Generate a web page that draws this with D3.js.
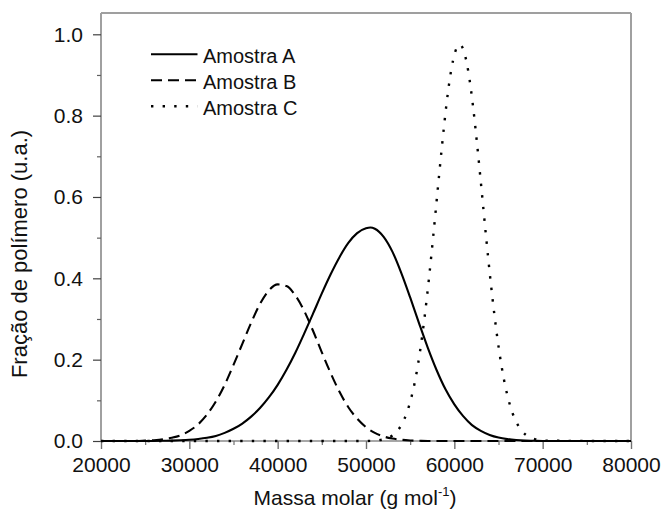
<!DOCTYPE html>
<html>
<head>
<meta charset="utf-8">
<script src="https://cdn.jsdelivr.net/npm/d3@7/dist/d3.min.js"></script>
<style>
  html, body { margin: 0; padding: 0; background: #fff; }
  svg { display: block; font-family: "Liberation Sans", Arial, sans-serif; }
</style>
</head>
<body>
<svg id="chart" width="662" height="518"></svg>
<script>
// ---- data ----
const massA = [20000, 25000, 27000, 28000, 29000, 30000, 31000, 32000, 33000, 34000, 35000, 36000, 37000, 38000, 39000, 40000, 41000, 42000, 43000, 44000, 45000, 46000, 47000, 48000, 49000, 50000, 50500, 51000, 52000, 53000, 54000, 55000, 56000, 57000, 58000, 59000, 60000, 61000, 62000, 63000, 64000, 65000, 66000, 67000, 68000, 69000, 70000, 80000];
const fracA = [0, 0, 0.0005, 0.001, 0.0018, 0.003, 0.005, 0.008, 0.0125, 0.020, 0.030, 0.043, 0.060, 0.081, 0.107, 0.138, 0.175, 0.217, 0.264, 0.313, 0.363, 0.410, 0.452, 0.487, 0.511, 0.523, 0.525, 0.522, 0.502, 0.465, 0.413, 0.353, 0.290, 0.229, 0.174, 0.127, 0.090, 0.061, 0.039, 0.025, 0.015, 0.0085, 0.0047, 0.0025, 0.0012, 0.0006, 0, 0];

const massB = [20000, 24000, 25000, 26000, 27000, 28000, 29000, 30000, 31000, 32000, 33000, 34000, 35000, 36000, 37000, 38000, 39000, 40000, 41000, 42000, 43000, 44000, 45000, 46000, 47000, 48000, 49000, 50000, 51000, 52000, 53000, 54000, 55000, 56000, 57000, 80000];
const fracB = [0, 0, 0.001, 0.002, 0.004, 0.008, 0.014, 0.025, 0.041, 0.065, 0.097, 0.138, 0.187, 0.239, 0.291, 0.337, 0.370, 0.385, 0.381, 0.358, 0.320, 0.271, 0.218, 0.167, 0.121, 0.083, 0.055, 0.034, 0.020, 0.011, 0.006, 0.003, 0.0014, 0.0006, 0, 0];

const massC = [20000, 50000, 51100, 51600, 52100, 52600, 53100, 53600, 54100, 54600, 55100, 55600, 56100, 56600, 57100, 57600, 58100, 58600, 59100, 59600, 60100, 60600, 61100, 61600, 62100, 62600, 63100, 63600, 64100, 64600, 65100, 65600, 66100, 66600, 67100, 67600, 68100, 68600, 69100, 69600, 70100, 70600, 80000];
const fracC = [0, 0, 0.0012, 0.0024, 0.0047, 0.0086, 0.015, 0.026, 0.043, 0.068, 0.104, 0.153, 0.218, 0.299, 0.394, 0.501, 0.614, 0.725, 0.826, 0.906, 0.957, 0.975, 0.957, 0.906, 0.826, 0.725, 0.614, 0.501, 0.394, 0.299, 0.218, 0.153, 0.104, 0.068, 0.043, 0.026, 0.015, 0.0086, 0.0047, 0.0024, 0.0012, 0.0006, 0];

const seriesNames = ["Amostra A", "Amostra B", "Amostra C"];
const xTicks = [20000, 30000, 40000, 50000, 60000, 70000, 80000];
const xMinorTicks = [25000, 35000, 45000, 55000, 65000, 75000];
const yTicks = [0.0, 0.2, 0.4, 0.6, 0.8, 1.0];
const yMinorTicks = [0.1, 0.3, 0.5, 0.7, 0.9];
const xTitle = "Massa molar (g mol";
const xTitleSup = "-1";
const yTitle = "Fração de polímero (u.a.)";

// ---- layout ----
const L = 101, R = 631, T = 13, B = 441;
const x = d3.scaleLinear().domain([20000, 80000]).range([L, R]);
const y = d3.scaleLinear().domain([0, (B - T) / 406.7]).range([B, T]);

const svg = d3.select("#chart");

const styles = [
  { dash: null, width: 2.1 },
  { dash: "11,6", width: 2.1 },
  { dash: "2.4,9.2", width: 2.4 }
];
const series = [
  { name: seriesNames[0], xs: massA, ys: fracA },
  { name: seriesNames[1], xs: massB, ys: fracB },
  { name: seriesNames[2], xs: massC, ys: fracC }
];

// frame
svg.append("line").attr("x1", L).attr("x2", R).attr("y1", T).attr("y2", T)
  .attr("stroke", "#404040").attr("stroke-width", 1.2);
svg.append("line").attr("x1", L).attr("x2", R).attr("y1", B).attr("y2", B)
  .attr("stroke", "#505050").attr("stroke-width", 1.2);
svg.append("line").attr("x1", R).attr("x2", R).attr("y1", T).attr("y2", B)
  .attr("stroke", "#a0a0a0").attr("stroke-width", 2);

// y axis
const yAxis = svg.append("g").attr("transform", `translate(${L},0)`)
  .call(d3.axisLeft(y).tickValues(yTicks).tickFormat(d3.format(".1f")).tickSize(8).tickPadding(10));
yAxis.select(".domain").attr("stroke", "#a0a0a0").attr("stroke-width", 2)
  .attr("d", `M0,${T}V${B}`);
yAxis.selectAll(".tick line").attr("stroke", "#404040").attr("stroke-width", 1.2);
yAxis.selectAll(".tick text").attr("font-size", 21).attr("fill", "#111")
  .attr("font-family", "Liberation Sans, Arial, sans-serif");
svg.append("g").attr("transform", `translate(${L},0)`)
  .call(d3.axisLeft(y).tickValues(yMinorTicks).tickFormat("").tickSize(4))
  .call(g => g.select(".domain").remove())
  .selectAll(".tick line").attr("stroke", "#606060").attr("stroke-width", 1.2);

// x axis
const xAxis = svg.append("g").attr("transform", `translate(0,${B})`)
  .call(d3.axisBottom(x).tickValues(xTicks).tickFormat(d3.format("d")).tickSize(8).tickPadding(8));
xAxis.select(".domain").remove();
xAxis.selectAll(".tick line").attr("stroke", "#707070").attr("stroke-width", 1.4);
xAxis.selectAll(".tick text").attr("font-size", 21).attr("fill", "#111")
  .attr("font-family", "Liberation Sans, Arial, sans-serif");
svg.append("g").attr("transform", `translate(0,${B})`)
  .call(d3.axisBottom(x).tickValues(xMinorTicks).tickFormat("").tickSize(4))
  .call(g => g.select(".domain").remove())
  .selectAll(".tick line").attr("stroke", "#707070").attr("stroke-width", 1.2);

// curves
const line = d3.line().x(d => x(d[0])).y(d => y(d[1])).curve(d3.curveMonotoneX);
series.forEach((s, i) => {
  const pts = s.xs.map((v, k) => [v, s.ys[k]]);
  svg.append("path").datum(pts)
    .attr("d", line)
    .attr("fill", "none")
    .attr("stroke", "#000")
    .attr("stroke-width", styles[i].width)
    .attr("stroke-dasharray", styles[i].dash);
});

// legend
const leg = svg.append("g");
series.forEach((s, i) => {
  const ly = 54.3 + i * 26;
  leg.append("line").attr("x1", 151).attr("x2", 197.5).attr("y1", ly).attr("y2", ly)
    .attr("stroke", "#000").attr("stroke-width", styles[i].width)
    .attr("stroke-dasharray", styles[i].dash);
  leg.append("text").attr("x", 203).attr("y", ly + 8.7)
    .attr("font-size", 20).attr("fill", "#111").text(s.name);
});

// axis titles
const xt = svg.append("text").attr("x", 355).attr("y", 505)
  .attr("text-anchor", "middle").attr("font-size", 21).attr("fill", "#111");
xt.append("tspan").text(xTitle);
xt.append("tspan").attr("dy", -9).attr("font-size", 13).text(xTitleSup);
xt.append("tspan").attr("dy", 9).text(")");

svg.append("text").attr("transform", "translate(27,254) rotate(-90)")
  .attr("text-anchor", "middle").attr("font-size", 22).attr("fill", "#111")
  .text(yTitle);
</script>
</body>
</html>
